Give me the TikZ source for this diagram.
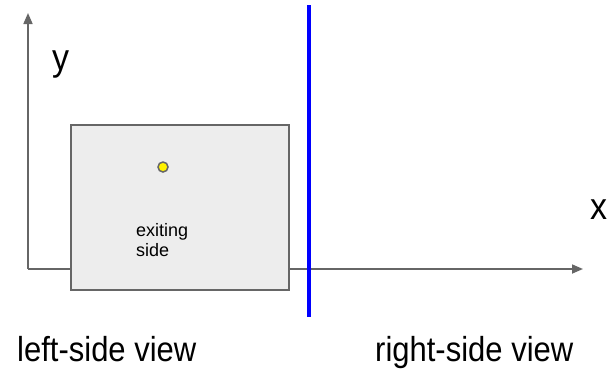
\documentclass[tikz,border=0pt]{standalone}
\usepackage{fontspec}
\setmainfont{Liberation Sans}
\usetikzlibrary{arrows.meta}
\begin{document}
\begin{tikzpicture}[x=1pt,y=-1pt,
  axis/.style={draw=black!60, line width=1.7pt, -{Triangle[length=11pt,width=9pt]}},
  panel/.style={draw=black!60, fill=black!7, line width=1.8pt},
  marker/.style={circle, draw=black!60, fill=yellow, line width=1.5pt, inner sep=0pt, minimum size=10pt},
  divider/.style={draw=blue, line width=3.2pt},
  lbl/.style={inner sep=0pt, anchor=base west}]
\useasboundingbox (0,0) rectangle (614,370);
\coordinate (o) at (28,269);
\coordinate (ytip) at (28,13);
\coordinate (xtip) at (583,269);
\draw[axis] (o) -- (ytip);
\draw[axis] (o) -- (xtip);
\node[panel, minimum width=218pt, minimum height=165pt, inner sep=0pt] (box) at (180,207.5) {};
\node[marker] (dot) at (163,167) {};
\node[lbl, font=\fontsize{18}{20}\selectfont, align=left, anchor=base west] (ex) at (136,256) {exiting\\side};
\coordinate (bt) at (309,5);
\coordinate (bb) at (309,317);
\draw[divider] (bt) -- (bb);
\node[lbl, font=\fontsize{34}{36}\selectfont] (ylab) at (52,70) {\scalebox{1}[1.1]{y}};
\node[lbl, font=\fontsize{34}{36}\selectfont] (xlab) at (590,219) {\scalebox{1}[1.1]{x}};
\node[lbl, font=\fontsize{31}{32}\selectfont] (lv) at (17,361) {\scalebox{1}[1.12]{left-side view}};
\node[lbl, font=\fontsize{31}{32}\selectfont] (rv) at (375,361) {\scalebox{1}[1.12]{right-side view}};
\end{tikzpicture}
\end{document}
